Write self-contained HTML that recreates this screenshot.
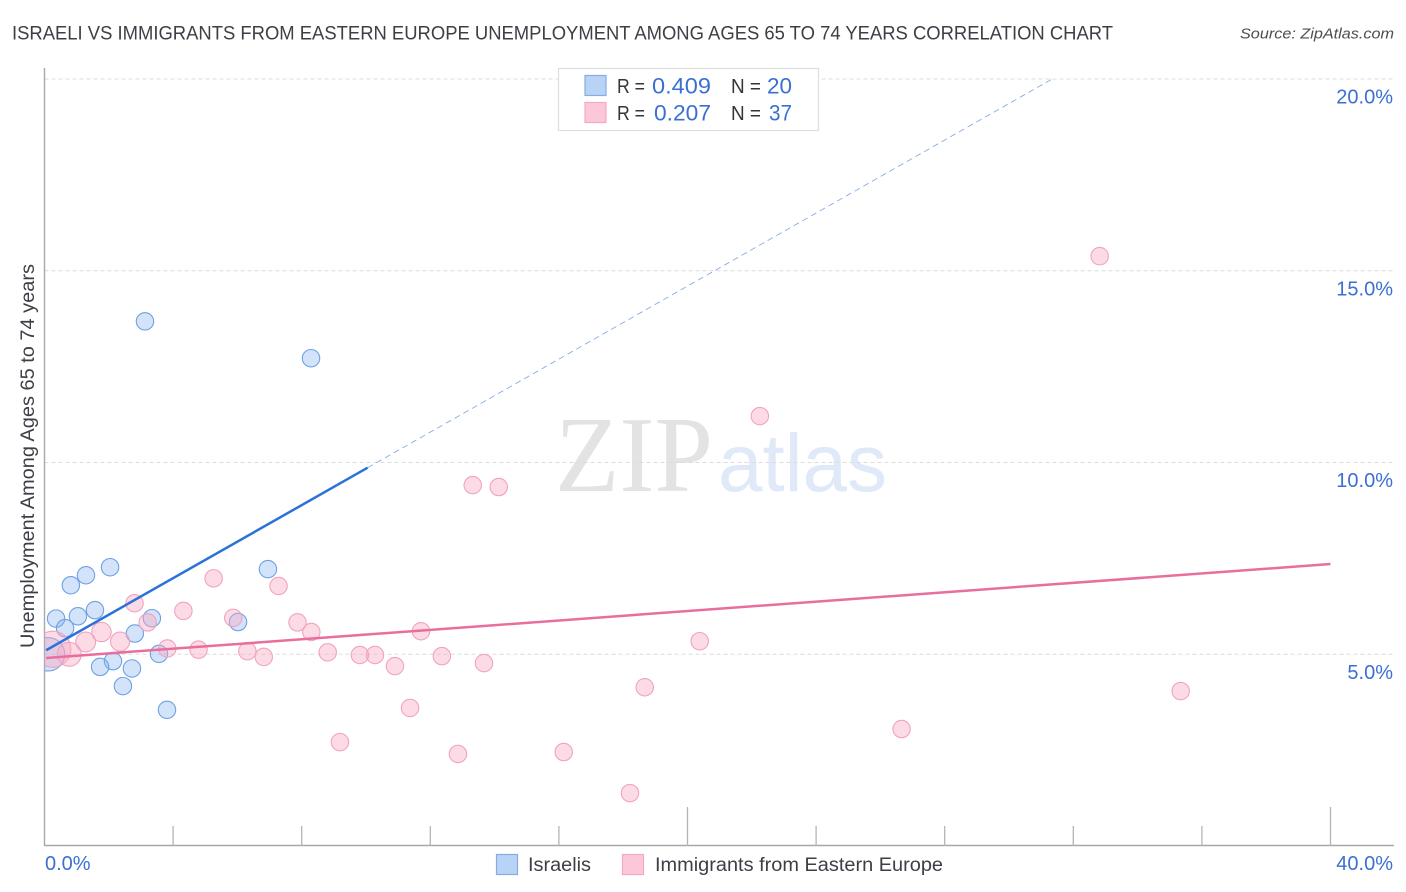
<!DOCTYPE html>
<html lang="en">
<head>
<meta charset="utf-8">
<title>Israeli vs Immigrants from Eastern Europe Unemployment Correlation Chart</title>
<style>
html,body{margin:0;padding:0;background:#fff;width:1406px;height:892px;overflow:hidden}
svg{display:block;font-family:"Liberation Sans",sans-serif}
</style>
</head>
<body>
<svg id="chart" width="1406" height="892" viewBox="0 0 1406 892" xmlns="http://www.w3.org/2000/svg">
  <defs><clipPath id="plot-clip"><rect x="44.5" y="60" width="1350" height="786"/></clipPath></defs>
  <text x="12" y="39.5" font-size="19.5" fill="#3c3f45" textLength="1101" lengthAdjust="spacingAndGlyphs">ISRAELI VS IMMIGRANTS FROM EASTERN EUROPE UNEMPLOYMENT AMONG AGES 65 TO 74 YEARS CORRELATION CHART</text>
  <text x="1394" y="38.5" font-size="15" font-style="italic" fill="#4a4d52" text-anchor="end" textLength="154" lengthAdjust="spacingAndGlyphs">Source: ZipAtlas.com</text>

  <g>
    <text x="555" y="491" font-family="'Liberation Serif',serif" font-size="108" fill="#e3e3e3" textLength="158" lengthAdjust="spacingAndGlyphs">ZIP</text>
    <text x="718" y="491" font-size="82" fill="#dfe9f8" textLength="169" lengthAdjust="spacingAndGlyphs">atlas</text>
  </g>

  <g id="grid"></g>
  <g id="axes"></g>
  <g id="marks" clip-path="url(#plot-clip)"></g>
  <g id="trends" clip-path="url(#plot-clip)"></g>
  <g id="labels"></g>

  <text transform="translate(34,648) rotate(-90)" font-size="19" fill="#3c3f45" textLength="384" lengthAdjust="spacingAndGlyphs">Unemployment Among Ages 65 to 74 years</text>

  <g>
    <rect x="558.5" y="68.5" width="260" height="62" fill="#fff" stroke="#dedede" stroke-width="1.2"/>
    <rect x="585" y="75.5" width="21" height="20" fill="#b9d3f6" stroke="#84ade6" stroke-width="1.2"/>
    <rect x="585" y="102.5" width="21" height="20" fill="#fcc8d9" stroke="#f3a9c2" stroke-width="1.2"/>
    <g font-size="20" fill="#33363b">
      <text x="617" y="93" textLength="28" lengthAdjust="spacingAndGlyphs">R =</text>
      <text x="731" y="93" textLength="30" lengthAdjust="spacingAndGlyphs">N =</text>
      <text x="617" y="120" textLength="28" lengthAdjust="spacingAndGlyphs">R =</text>
      <text x="731" y="120" textLength="30" lengthAdjust="spacingAndGlyphs">N =</text>
    </g>
    <g font-size="22" fill="#3b70d2">
      <text x="652" y="93.5" textLength="59" lengthAdjust="spacingAndGlyphs">0.409</text>
      <text x="767" y="93.5" textLength="25" lengthAdjust="spacingAndGlyphs">20</text>
      <text x="654" y="120.5" textLength="57" lengthAdjust="spacingAndGlyphs">0.207</text>
      <text x="769" y="120.5" textLength="23" lengthAdjust="spacingAndGlyphs">37</text>
    </g>
  </g>

  <g>
    <rect x="496.5" y="854.5" width="21" height="20" fill="#b9d3f6" stroke="#84ade6" stroke-width="1.2"/>
    <text x="528" y="871" font-size="19" fill="#3c3f45" textLength="63" lengthAdjust="spacingAndGlyphs">Israelis</text>
    <rect x="622.5" y="854.5" width="21" height="20" fill="#fcc8d9" stroke="#f3a9c2" stroke-width="1.2"/>
    <text x="655" y="871" font-size="19" fill="#3c3f45" textLength="288" lengthAdjust="spacingAndGlyphs">Immigrants from Eastern Europe</text>
  </g>
</svg>
<script>
const xTickValues = [0, 4, 8, 12, 16, 20, 24, 28, 32, 36, 40];
const xMajorTicks = [0, 20, 40];
const yTickValues = [5, 10, 15, 20];
const yTickLabels = ["5.0%", "10.0%", "15.0%", "20.0%"];
const xEndValues = [0, 40];
const xEndLabels = ["0.0%", "40.0%"];

const israeliX = [3.125, 8.29, 2.04, 1.29, 0.82, 6.95, 1.57, 1.04, 0.36, 3.34, 6.02, 0.64, 2.81, 3.56, 2.13, 1.73, 2.72, 2.44, 3.81, 0.11];
const israeliY = [13.68, 12.72, 7.27, 7.06, 6.80, 7.22, 6.15, 5.99, 5.93, 5.94, 5.84, 5.68, 5.54, 5.01, 4.82, 4.67, 4.63, 4.17, 3.55, 5.00];
const israeliWeight = [1, 1, 1, 1, 1, 1, 1, 1, 1, 1, 1, 1, 1, 1, 1, 1, 1, 1, 1, 3.7];

const immigrantX = [32.82, 22.25, 13.32, 14.13, 5.26, 7.28, 2.80, 4.32, 5.87, 3.21, 7.87, 8.30, 11.71, 1.77, 1.28, 2.35, 3.82, 4.79, 6.31, 6.82, 8.81, 9.81, 10.28, 10.90, 12.36, 13.67, 20.38, 18.67, 35.34, 26.66, 11.37, 9.19, 12.86, 16.15, 18.21, 0.26, 0.77];
const immigrantY = [15.38, 11.21, 9.41, 9.36, 6.98, 6.78, 6.33, 6.13, 5.95, 5.83, 5.83, 5.58, 5.60, 5.58, 5.32, 5.33, 5.15, 5.12, 5.08, 4.93, 5.05, 4.98, 4.98, 4.69, 4.95, 4.77, 5.34, 4.14, 4.04, 3.05, 3.60, 2.71, 2.40, 2.45, 1.38, 5.13, 5.00];
const immigrantWeight = [1, 1, 1, 1, 1, 1, 1, 1, 1, 1, 1, 1, 1, 1.25, 1.3, 1.2, 1, 1, 1, 1, 1, 1, 1, 1, 1, 1, 1, 1, 1, 1, 1, 1, 1, 1, 1, 4.3, 1.9];

const israeliTrend = [5.08, 0.476];
const immigrantTrend = [4.90, 0.0613];
const israeliSolidEnd = 10.05;
const immigrantTrendEnd = 40;
const yMaxValue = 20;

const NS = "http://www.w3.org/2000/svg";
function xScale(v) { return 44.5 + v * 32.15; }
function yScale(v) { return 846 - v * 38.35; }
function radius(w) { return 8.7 * Math.sqrt(w); }
function make(tag, attrs, parent) {
  const el = document.createElementNS(NS, tag);
  for (const k in attrs) el.setAttribute(k, attrs[k]);
  parent.appendChild(el);
  return el;
}
const grid = document.getElementById("grid");
const axes = document.getElementById("axes");
const marks = document.getElementById("marks");
const trends = document.getElementById("trends");
const labels = document.getElementById("labels");

yTickValues.forEach(function (v) {
  const line = make("line", {x1: 44.5, x2: 1394, y1: yScale(v), y2: yScale(v), stroke: "#dcdcdc", "stroke-width": 1, "stroke-dasharray": "4 3"}, grid);
  
  
});

const yAxisLine = make("line", {x1: 44.5, x2: 44.5, y1: 68, y2: 846, stroke: "#a8a8a8", "stroke-width": 1.4}, axes);


const xAxisLine = make("line", {x1: 44, x2: 1394, y1: 845.5, y2: 845.5, stroke: "#a8a8a8", "stroke-width": 1.4}, axes);



xTickValues.forEach(function (v) {
  if (v === 0) return;
  const top = xMajorTicks.indexOf(v) >= 0 ? 807 : 826;
  const tick = make("line", {x1: xScale(v), x2: xScale(v), y1: top, y2: 846, stroke: "#b4b4b4", "stroke-width": 1.3}, axes);
  
  
});

israeliX.forEach(function (v, i) {
  const dot = make("circle", {cx: xScale(v), cy: yScale(israeliY[i]), r: radius(israeliWeight[i]), fill: "rgba(130,178,240,0.36)", stroke: "#6ea2e3", "stroke-width": 1.1}, marks);
  
  
});
immigrantX.forEach(function (v, i) {
  const dot = make("circle", {cx: xScale(v), cy: yScale(immigrantY[i]), r: radius(immigrantWeight[i]), fill: "rgba(249,170,196,0.42)", stroke: "#f0a3bd", "stroke-width": 1.1}, marks);
  
  
});

function trendY(t, x) { return t[0] + t[1] * x; }
const israeliDashEnd = (yMaxValue - israeliTrend[0]) / israeliTrend[1];
const blueDash = make("line", {x1: xScale(israeliSolidEnd), y1: yScale(trendY(israeliTrend, israeliSolidEnd)), x2: xScale(israeliDashEnd), y2: yScale(yMaxValue), stroke: "#86ace6", "stroke-width": 0.9, "stroke-dasharray": "6 4"}, trends);


const blueSolid = make("line", {x1: xScale(0.05), y1: yScale(trendY(israeliTrend, 0.05)), x2: xScale(israeliSolidEnd), y2: yScale(trendY(israeliTrend, israeliSolidEnd)), stroke: "#2a72d9", "stroke-width": 2.5}, trends);


const pinkSolid = make("line", {x1: xScale(0.05), y1: yScale(trendY(immigrantTrend, 0.05)), x2: xScale(immigrantTrendEnd), y2: yScale(trendY(immigrantTrend, immigrantTrendEnd)), stroke: "#e96d9d", "stroke-width": 2.5}, trends);



yTickValues.forEach(function (v, i) {
  const t = make("text", {x: 1393, y: yScale(v) + 24.5, "font-size": 20, fill: "#3b70d2", "text-anchor": "end"}, labels);
  t.textContent = yTickLabels[i];
  
  
});
xEndValues.forEach(function (v, i) {
  const isLast = i === xEndValues.length - 1;
  const t = make("text", {x: isLast ? 1393 : xScale(v) + 0.5, y: 870, "font-size": 20, fill: "#3b70d2", "text-anchor": isLast ? "end" : "start"}, labels);
  t.textContent = xEndLabels[i];
  
  
});
</script>
</body>
</html>
